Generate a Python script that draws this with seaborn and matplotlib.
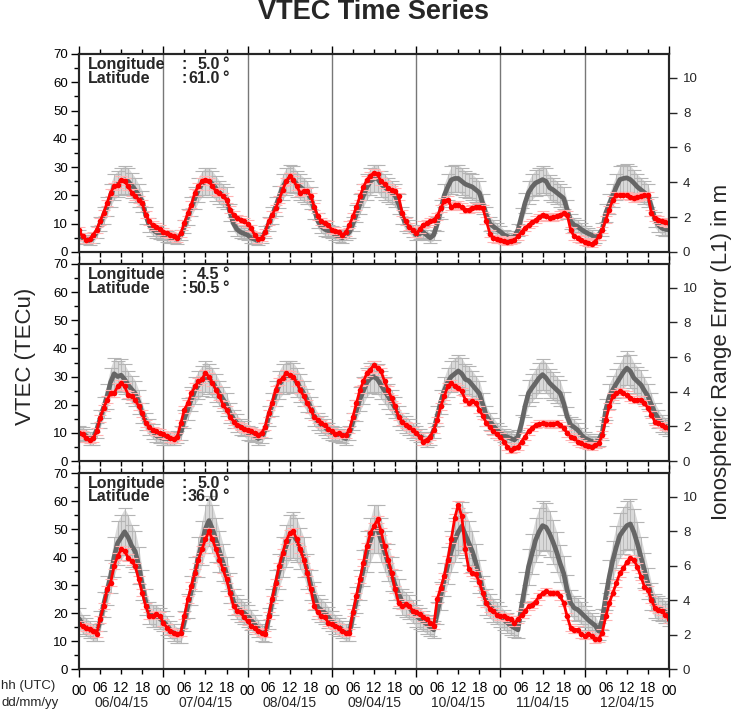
import numpy as np
import matplotlib
matplotlib.use("Agg")
import matplotlib.pyplot as plt
import seaborn as sns

# --- DATA (hourly VTEC values in TECu, 06/04/15 00h -> 13/04/15 00h) ---
DATES = ["06/04/15", "07/04/15", "08/04/15", "09/04/15", "10/04/15", "11/04/15", "12/04/15"]
HOUR_LABELS = ["06", "12", "18"]
STATIONS = [("5.0", "61.0"), ("4.5", "50.5"), ("5.0", "36.0")]

# panel 1 : lat 61.0
red_61 = [
    7.8, 5.5, 4.3, 4.5, 6, 7.8, 10.8, 13.8, 17.3, 21, 23.2, 23.8, 25.6, 25, 23.2, 21, 19.7, 18.5, 17.3, 13.2, 10.8, 9.6, 9, 8.2,
    7.2, 6.6, 6, 5.5, 4.9, 6.6, 10.2, 13.8, 16.7, 21, 23.2, 25, 25.6, 25, 23.2, 21.5, 21, 19.7, 18.5, 15, 13.2, 12, 11.4, 10.8,
    10, 8.5, 6, 4.5, 5, 7, 10.8, 13.2, 15.5, 18.5, 22, 25, 26.8, 25.6, 23.2, 20.9, 21.5, 21.5, 19.7, 16, 12.6, 10.8, 10.2, 9.6,
    7.8, 7.5, 7, 6, 7, 9.6, 12.6, 16, 19.7, 23, 25.6, 27, 28, 27.4, 25, 24, 22.7, 22, 21.5, 19.7, 13.8, 10.8, 9, 7.8,
    6.6, 8, 9.6, 10.2, 10.8, 11.4, 12.6, 15.5, 18, 18.5, 16, 16.5, 16.7, 16, 15, 15, 15.5, 16, 16, 15.5, 11, 6.5, 4.9, 4.5,
    4.3, 4, 3.7, 4, 4.3, 5.5, 7.2, 8.5, 9.6, 10.5, 11.4, 12.3, 13.2, 12.6, 12, 12.3, 12.6, 13.2, 13.8, 13.2, 7.8, 5.5, 4.9, 4.3,
    3.7, 3.3, 3, 3.7, 5.5, 7.8, 11.4, 15, 18.5, 20, 20, 20, 20, 19.5, 19, 19.3, 19.7, 20, 20, 13.8, 12, 11.4, 10.8, 10.5,
    10.2,
]
median_61 = [
    6, 5, 4.5, 4, 5, 7, 10, 13, 16, 20, 23, 24, 25, 25.5, 25, 23.5, 22, 20, 18, 13, 9.5, 8, 7, 6.5,
    6, 5.5, 5, 4.8, 4.5, 6, 9, 12.5, 16, 19, 22, 24, 25, 25, 24, 22.5, 21, 20, 19, 14, 10, 8, 7, 6.5,
    6, 5, 4.5, 4, 5, 7, 10, 13, 16, 19.5, 23, 25, 26, 25.6, 24, 23, 22, 21, 19, 15, 11, 9, 8, 7.5,
    7, 6, 5.5, 5, 6, 7, 10, 13.5, 17, 20, 23, 25, 26, 26, 24, 23, 22, 21, 20, 17, 13, 10, 9, 7.5,
    6, 6.5, 7, 6, 5, 6, 10, 15, 20, 23, 25.5, 26, 26, 25, 24, 23.5, 23, 22, 21, 17, 13, 10, 9, 8,
    7.2, 6, 5.5, 5, 5.5, 7.8, 12.6, 17.3, 21, 23, 24.4, 25, 25.6, 25, 22.7, 22, 21, 20, 19, 15, 10.8, 9.5, 9, 8,
    7.2, 6.5, 6, 5, 6, 8, 13.8, 17, 20, 23, 25.6, 26, 26.2, 25.6, 24.4, 23, 22, 21, 20, 16, 11.4, 9.5, 8.4, 8,
    7.8,
]

# panel 2 : lat 50.5
red_50 = [
    9.9, 9.5, 8, 7.5, 8, 10.5, 15.2, 18.8, 21.8, 24, 24, 26.5, 27.7, 26.5, 23.5, 23, 21.8, 19.4, 17, 13.4, 12.2, 11, 10.5, 10,
    9.5, 9, 8, 7.7, 8.7, 13.4, 18.2, 20.6, 24, 26.5, 28.3, 29, 31.3, 30, 27.7, 25.3, 23, 20, 18.2, 15.8, 14, 12.8, 12.2, 11.5,
    11, 10.5, 10, 9.3, 9.9, 12.2, 17, 20.6, 25.3, 28.3, 29.5, 31.3, 30.7, 30, 27.7, 25.3, 23, 20.6, 18.2, 15.8, 14.6, 13.4, 12.8, 11.5,
    10.5, 9.5, 9.9, 9.3, 9.3, 11, 15.8, 20.6, 25.3, 28.3, 31.3, 32.5, 34.2, 33, 31.9, 28.3, 25.3, 22.4, 19.4, 15.8, 14, 12.8, 12.2, 11,
    9.9, 8.7, 6.9, 7.5, 8.7, 11, 14.6, 19.4, 23, 26.5, 27.7, 26.5, 25.9, 24.7, 21.8, 20.6, 21.2, 20.6, 18.2, 16, 13.5, 12, 10.5, 9.5,
    8.7, 6.9, 5.1, 3.9, 4.5, 5.1, 6.9, 8.7, 10.5, 11.7, 12.8, 13.2, 13.4, 13.2, 13, 13.2, 13.4, 12.8, 11.7, 9.9, 8.7, 8.1, 6.9, 6.3,
    5.7, 5.5, 5.1, 5.7, 6.3, 9.3, 14.6, 19.4, 23, 24.1, 24.7, 24.1, 23.5, 22.5, 21.8, 21.8, 21.8, 20.6, 18.8, 16.4, 14, 13.4, 12.8, 12.2,
    11.7,
]
median_50 = [
    10, 9.5, 9, 8, 8, 11, 15, 19, 23, 28, 31, 30, 30.5, 29, 27, 25.5, 24, 21, 17, 14, 12, 10.5, 9, 8.5,
    8, 8, 8, 8, 8.5, 10, 15, 18.5, 22, 25, 27, 28.5, 30, 29, 28, 26, 24, 22, 20, 17, 15, 13.5, 12, 11.5,
    10, 9.5, 9, 8, 8.5, 11, 16, 20, 24, 27, 29, 30, 30, 29.5, 28, 26, 24, 21.5, 19, 16, 14, 13, 12, 11,
    10, 9.5, 9, 8.5, 8, 10, 14, 18, 22, 25, 28, 29.5, 30, 29, 27, 25, 23, 21, 19, 16, 14, 13, 12, 11,
    10, 9, 8, 7, 8, 11, 16, 21, 25, 28, 30, 31, 32, 31, 29, 28.5, 27, 25.5, 24, 20, 16, 14, 12.5, 11,
    10, 9, 8.5, 8, 7.5, 8.7, 13.4, 19.4, 24.1, 26, 27.7, 29.5, 30.7, 29.5, 27.7, 26.5, 25.3, 24.1, 20.6, 15.8, 12.8, 12, 11, 9.3,
    8.1, 7.5, 7, 6.5, 7.5, 10, 18.2, 23, 25.3, 27.5, 29.5, 31.5, 33, 31.9, 29.5, 28.3, 27.1, 25, 23, 20, 17, 15, 13.4, 12.5,
    11.7,
]

# panel 3 : lat 36.0
red_36 = [
    16, 15.4, 14.8, 14.2, 13.6, 12.5, 17.8, 22.5, 28.5, 30.8, 36.8, 40.3, 42.7, 42.1, 39.7, 38.5, 36.8, 32, 27.3, 22.5, 19, 19, 19.6, 19,
    16.6, 14.8, 13.6, 13, 12.5, 13, 19, 24.9, 29.7, 34.4, 39.1, 42.7, 46.3, 49.2, 46.3, 42.7, 39.1, 35.6, 32, 27.3, 22.5, 20.8, 20.2, 18.5,
    17, 15.5, 14.5, 13.6, 13, 12.5, 19, 24.9, 30.8, 36.8, 41.5, 45.7, 48.6, 49.2, 46.3, 42.7, 39.1, 34.4, 28.5, 22.5, 20.2, 19, 18.4, 16.6,
    16, 15.4, 14.8, 13.6, 13, 13, 20.2, 26.1, 32, 38, 43.9, 48.6, 51, 53.4, 49.2, 43.9, 39.1, 34.4, 28.5, 23.7, 22.5, 23.1, 22.5, 20.8,
    20.2, 19.6, 18.4, 17.8, 16.6, 15.4, 24.9, 29, 33.2, 39.1, 46.3, 54, 58.7, 54.5, 42.7, 35.6, 34.4, 33.8, 31, 27, 23.5, 21.5, 20.6, 19.4,
    18.8, 18.8, 18.3, 17.7, 16.5, 17.7, 19.4, 20.6, 22.4, 23, 24.1, 25.9, 27.1, 27.7, 27.1, 27.1, 27.1, 25.9, 23.6, 18.8, 14.7, 14.1, 14.1, 12.4,
    11.8, 12.4, 11.8, 10.6, 10.8, 13, 18.8, 23.6, 27.1, 30.6, 34.2, 35.9, 38.3, 39.5, 38.9, 36.5, 33, 29.4, 28.3, 24.7, 21.8, 21.2, 20.6, 19.4,
    17.7,
]
median_36 = [
    18, 16, 15, 14, 13, 13, 17, 23, 28, 33, 40, 45, 47, 49, 47, 44, 42, 37, 30, 24, 20, 19, 19, 18,
    17, 15.5, 14, 13, 12, 12, 17, 22.5, 28, 34, 40, 45, 50, 53, 50, 46, 42, 38, 34, 29, 24, 22, 21, 20,
    19, 17.5, 16, 14.5, 13, 12.5, 18, 24, 30, 35, 40, 44, 47, 48, 46, 43, 40, 35, 30, 26, 22, 21, 20, 18.5,
    17, 16, 15, 14, 13, 13, 19, 24.5, 30, 36, 42, 46, 50, 50, 46, 42, 38, 34, 30, 27, 24, 23, 22, 20.5,
    19, 18, 17, 16, 15, 14, 20, 26, 32, 37, 42, 46, 49, 51, 48, 45, 42, 38, 33, 28, 24, 22.5, 21, 20,
    18.8, 17.5, 16.5, 15.5, 14.7, 14, 22.4, 29.4, 36.5, 41.2, 46, 49, 51.2, 50.6, 48.3, 45.3, 41.8, 37.7, 34.2, 28.3, 23.6, 21.8, 21.2, 20,
    18.8, 17.5, 16.5, 15.5, 13.5, 17.7, 25.9, 33, 38.9, 43.6, 47.7, 49.5, 51.2, 51.8, 48.9, 44.8, 40, 35.3, 30.6, 25.9, 22.4, 21.8, 21.2, 20.3,
    19.4,
]

PANELS = [(red_61, median_61), (red_50, median_50), (red_36, median_36)]

HOURS = np.arange(len(red_61))
ERR_FRAC = 0.15      # spread of the median band, relative
ERR_MIN = 1.0
RED_ERR = 1.2
TECU_TO_M = 0.1624   # L1 range error per TECu

# --- FIGURE ---
sns.set_theme(style="ticks")
plt.rcParams["font.family"] = ["Liberation Sans", "DejaVu Sans"]

fig = plt.figure(figsize=(7.36, 7.11), dpi=100)
W, H = 736.0, 711.0
left, right = 79 / W, 669 / W
panel_px = [(54, 252), (264, 461), (473, 669)]
TICK_FS = 9.5
LAB_FS = 11.5

for i, ((red, med), (lon, lat)) in enumerate(zip(PANELS, STATIONS)):
    top, bot = panel_px[i]
    ax = fig.add_axes([left, 1 - bot / H, right - left, (bot - top) / H])
    med = np.array(med)
    red = np.array(red)
    err = ERR_FRAC * med + ERR_MIN

    # median band + error caps
    ax.fill_between(HOURS, med - err, med + err, color="#d9d9d9", lw=0, zorder=1)
    ax.errorbar(HOURS, med, yerr=err, fmt="none", ecolor="#b4b4b4",
                elinewidth=0.6, capsize=5, capthick=0.8, zorder=2)
    sns.lineplot(x=HOURS, y=med, color="#666666", linewidth=3.4, ax=ax, zorder=3)

    # current values
    ax.errorbar(HOURS, red, yerr=RED_ERR, fmt="none", ecolor="#ffb3b3",
                elinewidth=0.6, capsize=4, capthick=0.8, zorder=4)
    sns.lineplot(x=HOURS, y=red, color="red", linewidth=2.0, marker="o",
                 markersize=4, markeredgewidth=0, ax=ax, zorder=5)

    for d in range(1, 7):
        ax.axvline(24 * d, color="#777777", lw=1, zorder=0.5)

    ax.set_xlim(0, 168)
    ax.set_ylim(0, 70)
    ax.set_yticks(np.arange(0, 71, 10))
    ax.set_yticks(np.arange(5, 70, 10), minor=True)
    ax.set_xticks(np.arange(0, 169, 24))
    minor_x = [h for h in range(0, 169, 6) if h % 24 != 0]
    ax.set_xticks(minor_x, minor=True)
    ax.set_xlabel("")
    ax.set_ylabel("")
    ax.tick_params(axis="both", which="both", direction="out", labelsize=TICK_FS,
                   colors="black", width=1)
    ax.tick_params(axis="x", which="both", top=True, bottom=True)
    ax.tick_params(which="major", length=6)
    ax.tick_params(which="minor", length=3.5)
    ax.tick_params(axis="y", which="major", pad=2)

    if i == 2:
        ax.set_xticklabels(["00"] * 8)
        ax.set_xticks(minor_x, labels=HOUR_LABELS * 7, minor=True)
        ax.tick_params(axis="x", which="both", pad=5, labelsize=10)
        for d, lab in enumerate(DATES):
            ax.text(12 + 24 * d, -0.175, lab, transform=ax.get_xaxis_transform(),
                    ha="center", va="center", fontsize=10)
    else:
        ax.set_xticklabels([])

    for sp in ax.spines.values():
        sp.set_linewidth(1.5)
        sp.set_color("black")

    # station labels
    for yy, name, val in [(0.926, "Longitude", lon), (0.855, "Latitude", lat)]:
        ax.text(0.0153, yy, name, transform=ax.transAxes, fontsize=LAB_FS,
                fontweight="bold", va="baseline")
        ax.text(0.174, yy, ":", transform=ax.transAxes, fontsize=LAB_FS,
                fontweight="bold", va="baseline")
        ax.text(0.238, yy, val, transform=ax.transAxes, fontsize=LAB_FS,
                fontweight="bold", va="baseline", ha="right")
        ax.text(0.243, yy, "°", transform=ax.transAxes, fontsize=LAB_FS,
                fontweight="bold", va="baseline")

    # range error axis
    ax2 = ax.twinx()
    ax2.set_ylim(0, 70 * TECU_TO_M)
    ax2.set_yticks(np.arange(0, 11, 2))
    ax2.tick_params(axis="y", direction="out", length=6, width=1,
                    labelsize=TICK_FS, pad=4)
    for sp in ax2.spines.values():
        sp.set_linewidth(1.5)

fig.text(374 / W, 1 - 12 / H, "VTEC Time Series", ha="center", va="center",
         fontsize=19.5, fontweight="bold")
fig.text(25 / W, 1 - 356 / H, "VTEC (TECu)", rotation=90, ha="center", va="center",
         fontsize=16)
fig.text(722 / W, 1 - 352 / H, "Ionospheric Range Error (L1) in m", rotation=90,
         ha="center", va="center", fontsize=16)
fig.text(1 / W, 1 - 686 / H, "hh (UTC)", ha="left", va="center", fontsize=9.5)
fig.text(1 / W, 1 - 703 / H, "dd/mm/yy", ha="left", va="center", fontsize=9.5)

fig.savefig("out.png", dpi=100)
